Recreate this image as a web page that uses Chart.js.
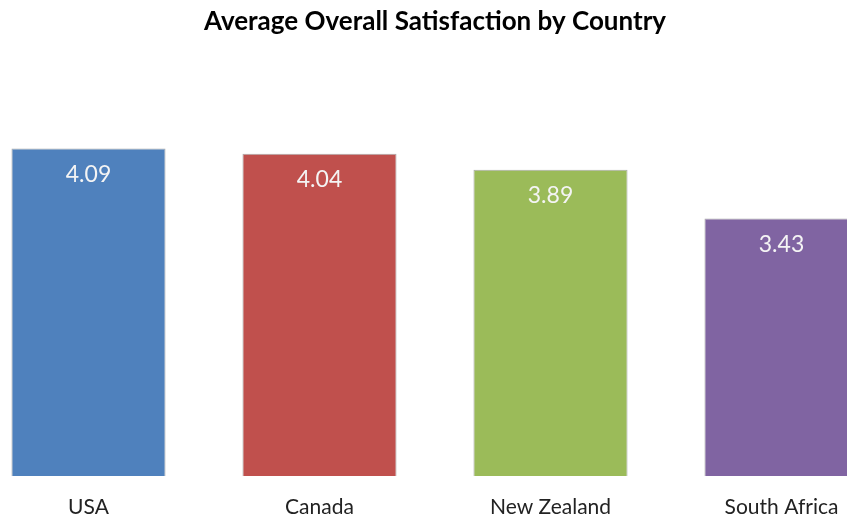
<!DOCTYPE html>
<html>
<head>
<meta charset="utf-8">
<script src="https://cdn.jsdelivr.net/npm/chart.js@4"></script>
<style>
  html, body { margin: 0; padding: 0; background: #fff; overflow: hidden; }
  #wrap { position: absolute; left: -27px; top: 0; width: 924px; height: 518px; }
</style>
</head>
<body>
<div id="wrap"><canvas id="my-chart"></canvas></div>
<script>
// chart data
const countries = ['USA', 'Canada', 'New Zealand', 'South Africa']
const satisfaction = [4.09, 4.04, 3.89, 3.43]
const barColors = ['#4F81BD', '#C0504D', '#9BBB59', '#8064A2']
const fontName = 'Lato, "Open Sans", sans-serif'

// draws the value inside the top of each bar
const valueLabels = {
    id: 'valueLabels',
    afterDatasetsDraw(chart) {
        const ctx = chart.ctx
        const meta = chart.getDatasetMeta(0)
        ctx.save()
        ctx.fillStyle = '#f4f4f4'
        ctx.font = '23px ' + fontName
        ctx.textAlign = 'center'
        ctx.textBaseline = 'middle'
        meta.data.forEach((bar, i) => {
            ctx.fillText(satisfaction[i].toFixed(2), bar.x, bar.y + 26)
        })
        ctx.restore()
    }
}

let ctx = document.getElementById('my-chart').getContext('2d')
let chart = new Chart(ctx, {
    type: 'bar',
    data: {
        labels: countries,
        datasets: [{
            data: satisfaction,
            backgroundColor: barColors,
            borderColor: 'rgba(160,160,160,0.9)',
            borderWidth: 1,
            categoryPercentage: 1,
            barPercentage: 0.667
        }]
    },
    options: {
        responsive: true,
        maintainAspectRatio: false,
        animation: false,
        layout: { padding: 0 },
        plugins: {
            legend: { display: false },
            tooltip: { enabled: false },
            title: {
                display: true,
                text: 'Average Overall Satisfaction by Country',
                color: '#000',
                font: { family: fontName, size: 26, weight: 'bold' },
                padding: { top: 6, bottom: 14.8 }
            }
        },
        scales: {
            x: {
                grid: { display: false, drawTicks: false },
                border: { display: false },
                ticks: {
                    color: '#222',
                    padding: 19,
                    font: { family: fontName, size: 21 }
                },
                afterFit: function(scale) {
                    scale.height = 42
                }
            },
            y: {
                display: false,
                min: 1,
                max: 5
            }
        }
    },
    plugins: [valueLabels]
})
</script>
</body>
</html>
